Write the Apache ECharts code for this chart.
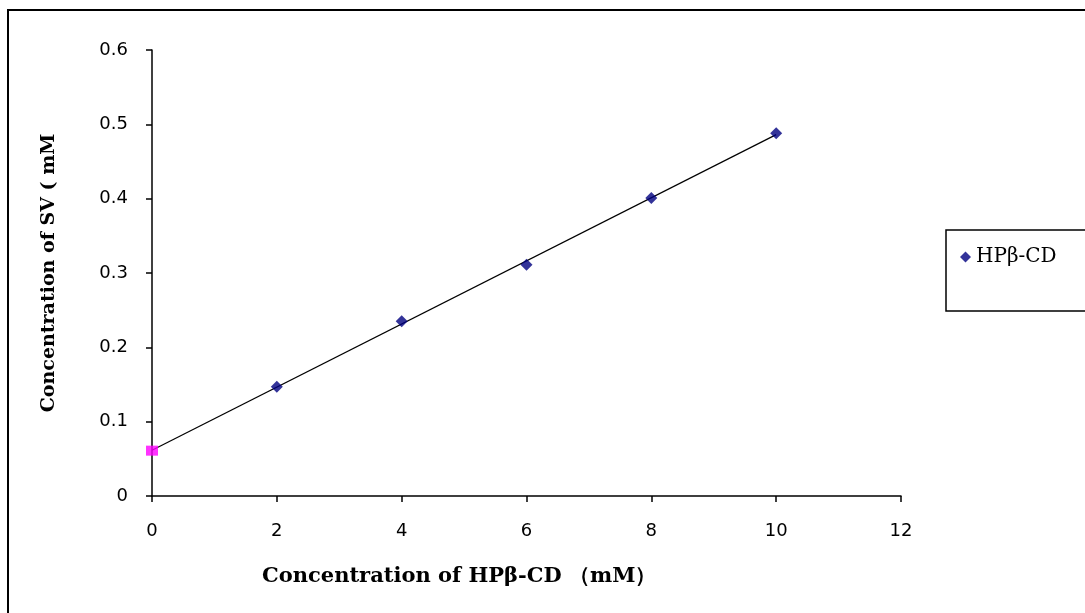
<!DOCTYPE html>
<html lang="en">
<head>
    <meta charset="UTF-8">
    <title>Phase solubility</title>
    <script src="https://cdn.jsdelivr.net/npm/echarts@6/dist/echarts.min.js"></script>
    <style>
        html, body { margin: 0; padding: 0; background: #fff; }
    </style>
</head>
<body>
    <div id="main" style="width: 1085px; height: 613px;"></div>
    <script type="text/javascript">
        var chartDom = document.getElementById('main');
        var myChart = echarts.init(chartDom);

        // data
        var cdConc = [2, 4, 6, 8, 10];
        var svConc = [0.147, 0.235, 0.311, 0.401, 0.488];
        var interceptPoint = [0, 0.061];
        var xTicks = [0, 2, 4, 6, 8, 10, 12];
        var yTicks = [0, 0.1, 0.2, 0.3, 0.4, 0.5, 0.6];

        // least squares trendline through all points
        var allX = [interceptPoint[0]].concat(cdConc);
        var allY = [interceptPoint[1]].concat(svConc);
        var n = allX.length, mx = 0, my = 0;
        for (var i = 0; i < n; i++) { mx += allX[i] / n; my += allY[i] / n; }
        var sxy = 0, sxx = 0;
        for (var i = 0; i < n; i++) {
            sxy += (allX[i] - mx) * (allY[i] - my);
            sxx += (allX[i] - mx) * (allX[i] - mx);
        }
        var slope = sxy / sxx, icpt = my - slope * mx;
        var xFirst = allX[0], xLast = allX[n - 1];
        var fitLine = [[xFirst, icpt + slope * xFirst], [xLast, icpt + slope * xLast]];

        var tickFont = { color: '#000', fontFamily: 'DejaVu Sans', fontSize: 18 };
        var titleFont = {
            fontFamily: 'DejaVu Serif',
            fontWeight: 'bold',
            fontSize: 21,
            color: '#000'
        };

        var option = {
            animation: false,
            backgroundColor: '#fff',
            title: {
                text: 'Concentration of HPβ-CD （mM）',
                left: 262,
                top: 566,
                padding: 0,
                textStyle: titleFont
            },
            graphic: [{
                type: 'rect',
                shape: { x: 8, y: 10, width: 1200, height: 800 },
                style: { fill: 'none', stroke: '#000', lineWidth: 2 },
                silent: true
            }],
            legend: {
                left: 946,
                top: 230,
                orient: 'vertical',
                borderColor: '#000',
                borderWidth: 1.5,
                padding: [17, 80, 44, 14],
                itemWidth: 11,
                itemHeight: 11,
                itemGap: 4,
                data: [{ name: 'HPβ-CD', icon: 'diamond' }],
                textStyle: { fontFamily: 'DejaVu Serif', fontSize: 20, color: '#000' }
            },
            grid: { left: 152, right: 184, top: 50, bottom: 117 },
            xAxis: {
                type: 'value',
                min: xTicks[0],
                max: xTicks[xTicks.length - 1],
                interval: xTicks[1] - xTicks[0],
                axisLine: { onZero: false, lineStyle: { color: '#000', width: 1.5 } },
                axisTick: { show: true, length: 6, lineStyle: { color: '#000', width: 1.5 } },
                axisLabel: Object.assign({ margin: 26 }, tickFont),
                splitLine: { show: false }
            },
            yAxis: {
                type: 'value',
                min: yTicks[0],
                max: yTicks[yTicks.length - 1],
                interval: 0.1,
                name: 'Concentration of SV ( mM',
                nameLocation: 'middle',
                nameGap: 93,
                nameTextStyle: Object.assign({}, titleFont, { fontSize: 19 }),
                axisLine: { onZero: false, lineStyle: { color: '#000', width: 1.5 } },
                axisTick: { show: true, length: 6, lineStyle: { color: '#000', width: 1.5 } },
                axisLabel: Object.assign({
                    margin: 24,
                    formatter: function (v) { return v === 0 ? '0' : v.toFixed(1); }
                }, tickFont),
                splitLine: { show: false }
            },
            series: [{
                name: 'trend',
                type: 'line',
                data: fitLine,
                showSymbol: false,
                lineStyle: { color: '#000', width: 1.2 },
                z: 1
            }, {
                name: 'HPβ-CD',
                type: 'scatter',
                symbol: 'diamond',
                symbolSize: 12,
                itemStyle: { color: '#000080' },
                data: cdConc.map(function (x, i) { return [x, svConc[i]]; }),
                z: 3
            }, {
                name: 'intercept',
                type: 'scatter',
                symbol: 'rect',
                symbolSize: [12, 10],
                itemStyle: { color: '#ff00ff' },
                data: [interceptPoint],
                z: 3
            }]
        };

        option && myChart.setOption(option);
    </script>
</body>
</html>
